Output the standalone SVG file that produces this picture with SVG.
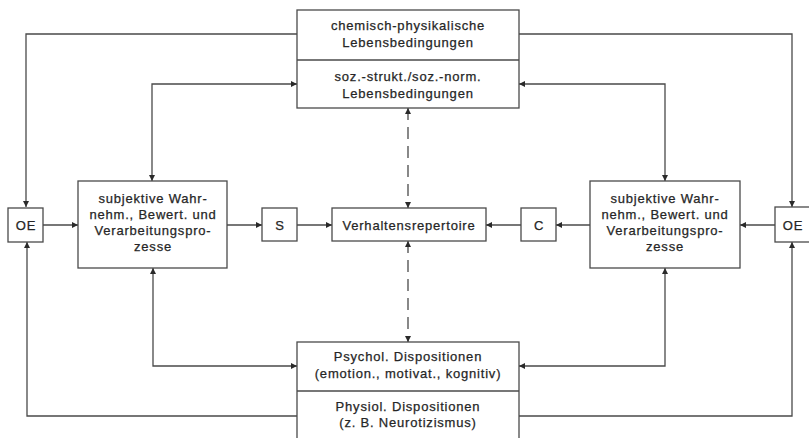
<svg xmlns="http://www.w3.org/2000/svg" width="809" height="438" viewBox="0 0 809 438">
  <style>
    .box { fill: #fff; stroke: #4a4a4a; stroke-width: 1.3; }
    .ln { fill: none; stroke: #4a4a4a; stroke-width: 1.3; }
    .dash { stroke-dasharray: 12 7; }
    text { font-family: "Liberation Sans", Arial, sans-serif; font-size: 13px; letter-spacing: 0.8px; fill: #262626; stroke: #262626; stroke-width: 0.25px; text-anchor: middle; }
  </style>
  <defs>
    <marker id="ah" viewBox="0 0 10 10" refX="10" refY="5" markerWidth="6" markerHeight="6" markerUnits="userSpaceOnUse" orient="auto-start-reverse">
      <path d="M0,0 L10,5 L0,10 z" fill="#2a2a2a"/>
    </marker>
  </defs>
  <rect width="809" height="438" fill="#fff"/>

  <g id="connectors">
    <!-- outer feedback loops to OE -->
    <path class="ln" d="M297,34 H26 V207" marker-end="url(#ah)"/>
    <path class="ln" d="M519,34 H792 V207" marker-end="url(#ah)"/>
    <path class="ln" d="M297,416 H27 V242" marker-end="url(#ah)"/>
    <path class="ln" d="M519,416 H792 V242" marker-end="url(#ah)"/>
    <!-- inner two-way links -->
    <path class="ln" d="M297,84 H152 V181" marker-start="url(#ah)" marker-end="url(#ah)"/>
    <path class="ln" d="M519,84 H665 V181" marker-start="url(#ah)" marker-end="url(#ah)"/>
    <path class="ln" d="M297,366 H153 V268" marker-start="url(#ah)" marker-end="url(#ah)"/>
    <path class="ln" d="M519,366 H665 V268" marker-start="url(#ah)" marker-end="url(#ah)"/>
    <!-- central chain -->
    <path class="ln" d="M43,225 H78" marker-end="url(#ah)"/>
    <path class="ln" d="M227,225 H262" marker-end="url(#ah)"/>
    <path class="ln" d="M297,225 H332" marker-end="url(#ah)"/>
    <path class="ln" d="M521,225 H486" marker-end="url(#ah)"/>
    <path class="ln" d="M590,225 H556" marker-end="url(#ah)"/>
    <path class="ln" d="M775,225 H740" marker-end="url(#ah)"/>
    <!-- dashed two-way links -->
    <path class="ln dash" d="M408,108 V208" marker-start="url(#ah)" marker-end="url(#ah)"/>
    <path class="ln dash" d="M408,241 V342" marker-start="url(#ah)" marker-end="url(#ah)"/>
  </g>

  <g id="lebensbedingungen">
    <rect class="box" x="297" y="10" width="222" height="98"/>
    <line class="ln" x1="297" y1="60" x2="519" y2="60"/>
    <text x="408" y="29.5">chemisch-physikalische</text>
    <text x="408" y="46.5">Lebensbedingungen</text>
    <text x="408" y="80.5">soz.-strukt./soz.-norm.</text>
    <text x="408" y="97.5">Lebensbedingungen</text>
  </g>

  <g id="oe-left">
    <rect class="box" x="8" y="208" width="35" height="34"/>
    <text x="26" y="229.5">OE</text>
  </g>

  <g id="wahrnehmung-left">
    <rect class="box" x="78" y="181" width="149" height="87"/>
    <text x="153" y="203">subjektive Wahr-</text>
    <text x="153" y="219">nehm., Bewert. und</text>
    <text x="153" y="235">Verarbeitungspro-</text>
    <text x="153" y="251">zesse</text>
  </g>

  <g id="s">
    <rect class="box" x="262" y="208" width="35" height="33"/>
    <text x="280" y="229.5">S</text>
  </g>

  <g id="verhaltensrepertoire">
    <rect class="box" x="332" y="208" width="154" height="33"/>
    <text x="409" y="229.5">Verhaltensrepertoire</text>
  </g>

  <g id="c">
    <rect class="box" x="521" y="208" width="35" height="33"/>
    <text x="539" y="229.5">C</text>
  </g>

  <g id="wahrnehmung-right">
    <rect class="box" x="590" y="181" width="150" height="87"/>
    <text x="665" y="203">subjektive Wahr-</text>
    <text x="665" y="219">nehm., Bewert. und</text>
    <text x="665" y="235">Verarbeitungspro-</text>
    <text x="665" y="251">zesse</text>
  </g>

  <g id="oe-right">
    <rect class="box" x="775" y="207" width="40" height="35"/>
    <text x="793" y="229.5">OE</text>
  </g>

  <g id="dispositionen">
    <rect class="box" x="297" y="342" width="222" height="110"/>
    <line class="ln" x1="297" y1="391" x2="519" y2="391"/>
    <text x="408" y="361">Psychol. Dispositionen</text>
    <text x="408" y="377.5">(emotion., motivat., kognitiv)</text>
    <text x="408" y="411">Physiol. Dispositionen</text>
    <text x="408" y="427">(z. B. Neurotizismus)</text>
  </g>
</svg>
